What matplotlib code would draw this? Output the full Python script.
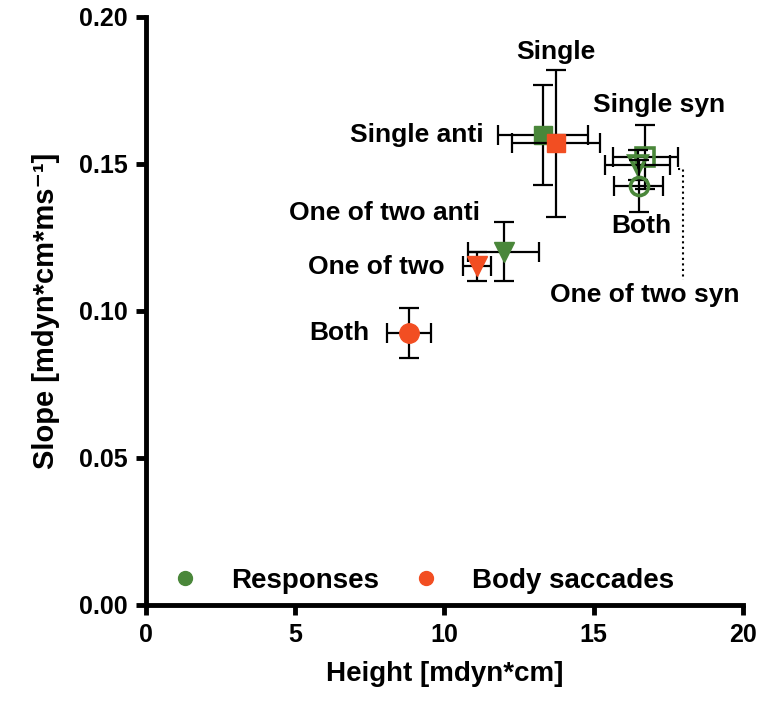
import matplotlib
matplotlib.use("Agg")
import matplotlib.pyplot as plt

plt.rcParams["font.family"] = ["Liberation Sans", "DejaVu Sans"]
plt.rcParams["font.weight"] = "bold"

GREEN = "#4A873A"
ORANGE = "#F24E22"

# ----------------------------------------------------
# Data (height, slope, errors)
# ----------------------------------------------------
labels = ["Single", "Single", "Single syn", "One of two syn", "Both syn",
          "One of two anti", "One of two", "Both"]
height = [13.3, 13.73, 16.73, 16.47, 16.5, 11.98, 11.09, 8.81]
height_err = [1.5, 1.47, 1.09, 1.09, 0.82, 1.19, 0.47, 0.73]
slope = [0.160, 0.157, 0.1524, 0.1497, 0.1425, 0.1201, 0.1152, 0.0925]
slope_err = [0.017, 0.025, 0.011, 0.005, 0.009, 0.010, 0.005, 0.0085]
markers = ["s", "s", "s", "v", "o", "v", "v", "o"]
colors = [GREEN, ORANGE, GREEN, GREEN, GREEN, GREEN, ORANGE, ORANGE]
filled = [True, True, False, False, False, True, True, True]
msizes = [13, 13, 13, 13, 13, 15, 14, 14]

fig = plt.figure(figsize=(7.63, 7.02), dpi=100)
ax = fig.add_axes([0.1913, 0.1382, 0.7825, 0.8376])

for i in range(len(height)):
    ax.errorbar(height[i], slope[i], xerr=height_err[i], yerr=slope_err[i],
                fmt="none", ecolor="black", elinewidth=1.6, capsize=7,
                capthick=1.6, zorder=2 + i)
    ax.plot(height[i], slope[i], marker=markers[i], linestyle="none",
            markersize=msizes[i],
            markerfacecolor=colors[i] if filled[i] else "none",
            markeredgecolor=colors[i], markeredgewidth=2.6 if not filled[i] else 1,
            zorder=3 + i)

# dotted leader line for "One of two syn"
ax.plot([17.82, 18.0, 18.0], [0.1483, 0.1483, 0.1105], color="black",
        linestyle=":", linewidth=1.5, zorder=1)

# point labels
fs = 19
ax.text(13.73, 0.188, "Single", ha="center", va="center", fontsize=fs)
ax.text(11.3, 0.1600, "Single anti", ha="right", va="center", fontsize=fs)
ax.text(17.2, 0.1700, "Single syn", ha="center", va="center", fontsize=fs)
ax.text(16.58, 0.1289, "Both", ha="center", va="center", fontsize=fs)
ax.text(16.72, 0.1054, "One of two syn", ha="center", va="center", fontsize=fs)
ax.text(8.0, 0.1333, "One of two anti", ha="center", va="center", fontsize=fs)
ax.text(10.0, 0.1150, "One of two", ha="right", va="center", fontsize=fs)
ax.text(7.5, 0.0925, "Both", ha="right", va="center", fontsize=fs)

# legend
h1, = ax.plot([], [], "o", color=GREEN, markersize=10, label="Responses")
h2, = ax.plot([], [], "o", color=ORANGE, markersize=10, label="Body saccades")
ax.legend(handles=[h1, h2], loc="lower left", ncol=2, frameon=False,
          fontsize=20, bbox_to_anchor=(0.0, 0.0), handletextpad=0.65,
          columnspacing=0.7, borderaxespad=0.0, markerscale=1)

ax.set_xlim(0, 20)
ax.set_ylim(0, 0.20)
ax.set_xticks([0, 5, 10, 15, 20])
ax.set_yticks([0.00, 0.05, 0.10, 0.15, 0.20])
ax.set_yticklabels(["0.00", "0.05", "0.10", "0.15", "0.20"])

for side in ["top", "right"]:
    ax.spines[side].set_visible(False)
for side in ["left", "bottom"]:
    ax.spines[side].set_linewidth(3.5)
ax.tick_params(direction="out", length=7, width=3.5, labelsize=18, pad=6)
for lab in ax.get_xticklabels() + ax.get_yticklabels():
    lab.set_fontweight("bold")

ax.set_xlabel("Height [mdyn*cm]", fontsize=20, fontweight="bold", labelpad=10)
ax.set_ylabel("Slope [mdyn*cm*ms\u207b\u00b9]", fontsize=21,
              fontweight="bold", labelpad=14)

plt.savefig("out.png", dpi=100)
